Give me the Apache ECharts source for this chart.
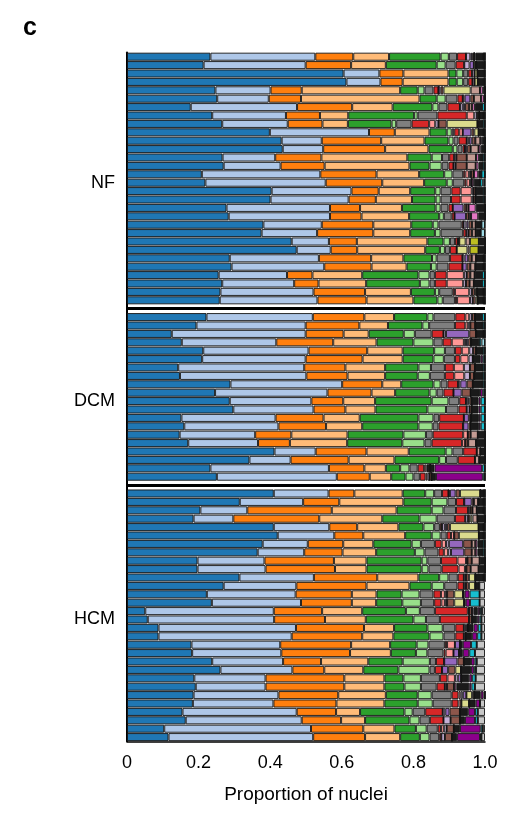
<!DOCTYPE html>
<html><head><meta charset="utf-8">
<script src="https://cdn.jsdelivr.net/npm/echarts@6/dist/echarts.min.js"></script>
<style>html,body{margin:0;padding:0;background:#fff}#c{width:522px;height:820px}</style>
</head><body><div id="c"></div>
<script>
// Groups of samples (top to bottom)
const groups = ['NF', 'DCM', 'HCM'];
const xTicks = [0, 0.2, 0.4, 0.6, 0.8, 1.0];

// Main cell states (cumulative right edges per row)
const majorKeys = ['blue', 'lightblue', 'orange', 'lightorange', 'green', 'lightgreen', 'grey', 'red'];
// Minor cell states (widths per row); 'ot' = remaining tiny states
const tailKeys = ['pk', 'lv', 'pu', 'br', 'kh', 'lbr', 'ol', 'hp', 'ot', 'dm', 'cy', 'lcy', 'lg2'];

const colors = {
  blue: '#1f77b4', lightblue: '#aec7e8', orange: '#ff7f0e', lightorange: '#ffbb78',
  green: '#2ca02c', lightgreen: '#98df8a', grey: '#7f7f7f', red: '#d62728',
  pk: '#ff9896', lv: '#c5b0d5', pu: '#9467bd', br: '#8c564b', kh: '#dbdb8d',
  lbr: '#c49c94', ol: '#bcbd22', hp: '#e377c2', ot: '#1a1a1a', dm: '#8b008b',
  cy: '#17becf', lcy: '#9edae5', lg2: '#c7c7c7'
};

const nfMajor = [
  [.233,.526,.632,.732,.876,.899,.922,.947],
  [.214,.499,.626,.723,.865,.890,.918,.942],
  [.605,.705,.772,.898,.920,.939,.953,.964],
  [.613,.708,.770,.898,.921,.939,.953,.965],
  [.247,.401,.488,.763,.812,.831,.856,.870],
  [.252,.396,.486,.817,.865,.890,.923,.938],
  [.178,.475,.629,.742,.853,.870,.895,.930],
  [.238,.444,.539,.618,.802,.812,.867,.949],
  [.266,.449,.546,.617,.739,.752,.795,.844],
  [.399,.676,.748,.845,.893,.907,.914,.928],
  [.432,.544,.710,.831,.898,.912,.926,.949],
  [.435,.548,.721,.842,.910,.923,.937,.944],
  [.267,.414,.543,.783,.851,.880,.900,.914],
  [.270,.429,.552,.789,.845,.879,.898,.912],
  [.209,.540,.697,.816,.886,.909,.939,.945],
  [.219,.555,.713,.830,.893,.910,.942,.948],
  [.404,.627,.703,.791,.861,.876,.906,.932],
  [.401,.619,.695,.796,.862,.876,.905,.932],
  [.278,.567,.651,.768,.862,.876,.898,.910],
  [.284,.567,.655,.788,.872,.885,.907,.915],
  [.381,.544,.688,.794,.854,.870,.935,.940],
  [.376,.531,.688,.791,.860,.876,.939,.948],
  [.460,.564,.642,.839,.884,.902,.916,.924],
  [.474,.569,.643,.833,.874,.888,.902,.921],
  [.287,.536,.682,.772,.852,.865,.902,.937],
  [.292,.551,.683,.781,.849,.865,.898,.937],
  [.256,.447,.518,.657,.814,.845,.860,.893],
  [.266,.467,.535,.668,.818,.845,.860,.893],
  [.261,.521,.665,.793,.860,.872,.910,.916],
  [.259,.532,.669,.800,.867,.882,.916,.922]
];
const nfTail = [
  {lv:.012,pu:.005,br:.006,cy:.004,hp:.003},
  {pu:.012,lv:.015,kh:.006,cy:.003},
  {lv:.007,kh:.008,cy:.003},
  {lv:.006,kh:.009,cy:.003},
  {pu:.006,br:.008,kh:.076,lbr:.026,hp:.008},
  {lv:.005,pu:.016,br:.010,lbr:.020,hp:.008},
  {lv:.008,pu:.006,br:.012,lbr:.008,cy:.008,hp:.008},
  {pk:.021,lv:.008,br:.006,cy:.004},
  {pk:.017,lv:.009,br:.023,kh:.086,cy:.006},
  {pk:.010,pu:.024,br:.008,kh:.012,cy:.004},
  {lv:.006,pu:.008,br:.010,lbr:.014,hp:.004},
  {pu:.006,br:.010,lbr:.022,hp:.006},
  {lv:.006,br:.029,lbr:.026,cy:.006,hp:.008},
  {lv:.006,br:.031,lbr:.025,cy:.006,hp:.008},
  {pk:.010,lv:.006,br:.008,cy:.010,hp:.012},
  {pk:.010,lv:.005,cy:.008,lcy:.006,hp:.006},
  {pk:.031,lv:.005,br:.006,cy:.005},
  {pk:.031,lv:.005,br:.006,cy:.005},
  {pu:.030,br:.008,lbr:.006,hp:.020},
  {pu:.032,br:.008,lbr:.006,hp:.020},
  {pu:.006,lv:.008,br:.010,lbr:.010,lcy:.010},
  {lv:.006,br:.010,lbr:.010,lcy:.012},
  {lv:.004,kh:.018,lbr:.012,ol:.025},
  {kh:.030,lbr:.006,ol:.025},
  {lv:.006,pu:.010,br:.010,lbr:.012,cy:.004},
  {pu:.012,br:.010,lbr:.014,cy:.004},
  {pk:.048,lv:.008,br:.010,lbr:.012,cy:.008},
  {pk:.046,lv:.008,br:.010,lbr:.012,cy:.008},
  {pk:.040,lv:.008,br:.008,kh:.006,cy:.004},
  {pk:.036,lv:.008,br:.008,kh:.006,cy:.004}
];

const dcmMajor = [
  [.222,.519,.663,.746,.839,.856,.917,.945],
  [.194,.499,.649,.729,.825,.844,.916,.945],
  [.125,.499,.605,.675,.773,.804,.851,.884],
  [.153,.417,.576,.697,.800,.856,.882,.907],
  [.213,.507,.671,.770,.858,.888,.916,.935],
  [.210,.499,.658,.770,.856,.885,.916,.931],
  [.143,.495,.610,.721,.814,.849,.888,.913],
  [.148,.501,.616,.721,.812,.846,.888,.914],
  [.289,.601,.713,.766,.856,.876,.895,.925],
  [.246,.560,.683,.749,.845,.865,.884,.912],
  [.287,.515,.604,.693,.851,.898,.928,.947],
  [.297,.521,.610,.694,.839,.891,.926,.949],
  [.152,.415,.549,.650,.814,.856,.872,.941],
  [.160,.423,.556,.657,.814,.854,.870,.939],
  [.147,.358,.459,.616,.772,.835,.854,.939],
  [.171,.366,.455,.615,.769,.831,.851,.936],
  [.412,.527,.669,.787,.890,.909,.939,.977],
  [.342,.457,.619,.747,.872,.891,.924,.972],
  [.233,.564,.663,.723,.763,.789,.812,.830],
  [.251,.586,.678,.738,.778,.800,.818,.834]
];
const dcmTail = [
  {pk:.011,lv:.008,br:.008,cy:.008},
  {pk:.008,lv:.006,br:.014,cy:.006},
  {pu:.065,lv:.007,br:.019,cy:.004},
  {pk:.034,lv:.006,pu:.006,br:.008,cy:.006,lcy:.010},
  {pk:.021,lv:.011,br:.008,cy:.006},
  {pk:.023,lv:.012,dm:.006,cy:.006},
  {pk:.028,lv:.017,br:.014,cy:.006},
  {pk:.028,lv:.016,br:.012,cy:.006},
  {lv:.006,pu:.018,br:.017,cy:.006},
  {pu:.023,br:.025,dm:.008,cy:.006},
  {lv:.006,pu:.004,br:.006,dm:.006,cy:.012},
  {lv:.008,br:.006,dm:.006,cy:.012},
  {pu:.014,br:.006,dm:.005,cy:.012},
  {pu:.015,br:.006,dm:.005,cy:.012},
  {pk:.013,br:.008,lbr:.020},
  {pk:.009,br:.008,lbr:.022},
  {lbr:.010},
  {lbr:.012},
  {pk:.006,lv:.005,br:.006,dm:.133,cy:.008},
  {pk:.005,lv:.006,br:.006,dm:.131,cy:.006}
];

const hcmMajor = [
  [.410,.563,.635,.770,.833,.858,.880,.898],
  [.315,.492,.593,.772,.851,.895,.919,.942],
  [.205,.336,.572,.753,.851,.884,.919,.953],
  [.186,.297,.537,.713,.817,.865,.916,.945],
  [.410,.565,.643,.758,.828,.858,.874,.880],
  [.421,.579,.660,.777,.851,.876,.893,.905],
  [.379,.505,.604,.688,.795,.821,.860,.879],
  [.365,.495,.602,.696,.804,.831,.870,.885],
  [.197,.384,.578,.669,.823,.839,.877,.923],
  [.197,.387,.581,.669,.823,.842,.879,.926],
  [.314,.522,.699,.814,.872,.898,.924,.941],
  [.270,.473,.669,.789,.851,.886,.923,.941],
  [.223,.471,.628,.697,.767,.817,.856,.877],
  [.237,.486,.628,.696,.769,.821,.858,.878],
  [.051,.410,.545,.657,.779,.818,.860,.952],
  [.058,.411,.553,.667,.800,.835,.874,.956],
  [.088,.472,.662,.746,.839,.882,.917,.941],
  [.088,.460,.657,.744,.845,.884,.917,.941],
  [.180,.428,.626,.735,.809,.842,.888,.894],
  [.182,.431,.623,.737,.807,.839,.884,.890],
  [.238,.436,.542,.674,.770,.846,.863,.886],
  [.261,.462,.551,.660,.758,.845,.860,.880],
  [.188,.387,.607,.719,.772,.821,.874,.895],
  [.192,.387,.607,.719,.775,.821,.865,.888],
  [.186,.423,.590,.723,.812,.851,.907,.926],
  [.184,.409,.585,.719,.812,.854,.907,.926],
  [.155,.474,.584,.651,.775,.798,.833,.882],
  [.164,.488,.598,.665,.789,.817,.846,.884],
  [.104,.514,.660,.747,.807,.837,.868,.877],
  [.116,.520,.665,.763,.818,.845,.872,.878]
];
const hcmTail = [
  {lv:.004,pu:.016,br:.012,kh:.057,cy:.004},
  {pu:.021,br:.006,lbr:.012,cy:.004},
  {lv:.006,br:.006,lbr:.012,cy:.004},
  {lv:.008,br:.006,kh:.006,lbr:.014},
  {lv:.008,pu:.006,br:.008,kh:.080,cy:.004},
  {pk:.009,br:.013,kh:.056,cy:.004},
  {pk:.012,lv:.008,pu:.040,br:.024,lbr:.010,hp:.006,cy:.006},
  {pk:.012,lv:.008,pu:.037,br:.021,lbr:.010,hp:.006,cy:.006},
  {pk:.024,lv:.004,br:.012,lbr:.022},
  {pk:.018,lv:.004,br:.012,lbr:.022},
  {lv:.006,br:.008,kh:.018,cy:.004},
  {lv:.006,br:.008,kh:.018,lg2:.016},
  {pk:.011,lv:.006,br:.020,kh:.025,dm:.014,cy:.028,lg2:.015},
  {pk:.010,lv:.006,br:.020,kh:.028,dm:.012,cy:.027,lg2:.015},
  {pk:.004,br:.008,hp:.004,dm:.006,cy:.006,lg2:.008},
  {br:.008,dm:.006,cy:.006,lg2:.010},
  {lv:.006,pu:.006,dm:.012,cy:.010,lg2:.010},
  {lv:.005,dm:.014,cy:.012,lg2:.010},
  {pk:.022,pu:.014,dm:.023,cy:.016,lg2:.023},
  {pk:.022,pu:.016,dm:.018,cy:.016,lg2:.028},
  {pu:.037,br:.018,dm:.010,cy:.006,lg2:.023},
  {pu:.017,br:.020,kh:.016,dm:.008,cy:.006,lg2:.025},
  {pk:.021,lv:.008,pu:.010,dm:.008,cy:.010,lg2:.026},
  {lv:.006,br:.020,hp:.006,dm:.006,cy:.010,lg2:.028},
  {pk:.006,lv:.006,pu:.010,kh:.016,lbr:.006,dm:.008,cy:.004},
  {pk:.008,kh:.022,dm:.012,lg2:.014},
  {lv:.007,pu:.012,br:.029,dm:.019,cy:.008,lg2:.020},
  {lv:.020,br:.026,dm:.028,cy:.008,lg2:.020},
  {pk:.008,lv:.008,br:.020,dm:.058,cy:.006,lg2:.006},
  {lv:.010,br:.020,dm:.064,cy:.004,lg2:.010}
];

// ---- build rows (with a blank separator row between groups) ----
const panels = [[nfMajor, nfTail], [dcmMajor, dcmTail], [hcmMajor, hcmTail]];
const cats = [];
const rows = [];          // null for separators
const labelAt = {};       // category -> group label
const sepNames = [];
panels.forEach((p, gi) => {
  if (gi > 0) { const s = 'sep' + gi; cats.push(s); rows.push(null); sepNames.push(s); }
  const n = p[0].length;
  p[0].forEach((m, i) => {
    const name = groups[gi] + '-' + (i + 1);
    cats.push(name);
    if (i === Math.floor(n / 2)) labelAt[name] = groups[gi];
    const w = {};
    majorKeys.forEach((k, j) => { w[k] = +(m[j] - (j ? m[j - 1] : 0)).toFixed(4); });
    const t = p[1][i];
    let used = m[7];
    tailKeys.forEach(k => { if (k !== 'ot') { w[k] = t[k] || 0; used += w[k]; } });
    w.ot = Math.max(0, +(1 - used).toFixed(4));
    rows.push(w);
  });
});

const FONT = '"Liberation Sans", Arial, Helvetica, sans-serif';
const allKeys = majorKeys.concat(tailKeys);
const series = allKeys.map((k, idx) => {
  const s = {
    type: 'bar', name: k, stack: 'all', barCategoryGap: '4%',
    itemStyle: { color: colors[k], borderColor: 'rgba(20,20,20,0.9)', borderWidth: 1 },
    emphasis: { disabled: true },
    data: rows.map(r => r ? (r[k] || 0) : '-')
  };
  if (idx === 0) {
    s.markLine = {
      silent: true, symbol: ['none', 'none'], label: { show: false },
      lineStyle: { color: '#000', width: 3, type: 'solid' },
      data: sepNames.map(n => ({ yAxis: n }))
    };
  }
  return s;
});

const chart = echarts.init(document.getElementById('c'), null, { renderer: 'canvas' });
chart.setOption({
  animation: false,
  backgroundColor: '#fff',
  title: { text: 'c', left: 18, top: 11, textStyle: { fontFamily: FONT, fontWeight: 'bold', fontSize: 25, color: '#000' } },
  grid: { left: 127, right: 37, top: 52.5, bottom: 78.7 },
  xAxis: {
    type: 'value', min: 0, max: 1, interval: 0.2,
    axisLine: { show: true, lineStyle: { color: '#000', width: 1.5 } },
    axisTick: { show: false }, splitLine: { show: false },
    axisLabel: { fontFamily: FONT, fontSize: 18, color: '#000', margin: 13,
      formatter: v => { const t = xTicks.find(x => Math.abs(x - v) < 1e-9); return t === 0 ? '0' : (t !== undefined ? t.toFixed(1) : ''); } },
    name: 'Proportion of nuclei', nameLocation: 'middle', nameGap: 44,
    nameTextStyle: { fontFamily: FONT, fontSize: 19, color: '#000' }
  },
  yAxis: {
    type: 'category', data: cats, inverse: true,
    axisLine: { show: true, lineStyle: { color: '#000', width: 2 } },
    axisTick: { show: false }, splitLine: { show: false },
    axisLabel: { interval: 0, margin: 12, fontFamily: FONT, fontSize: 18, color: '#000',
      formatter: v => labelAt[v] || '' }
  },
  series: series
});
</script></body></html>
